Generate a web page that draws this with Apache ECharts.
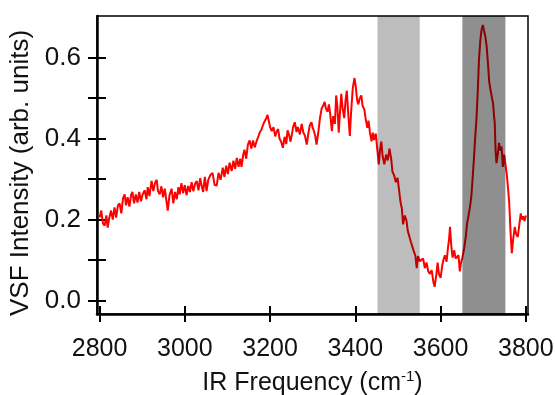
<!DOCTYPE html>
<html>
<head>
<meta charset="utf-8">
<script src="https://cdn.jsdelivr.net/npm/echarts@6/dist/echarts.min.js"></script>
<style>
html,body{margin:0;padding:0;background:#fff;}
#chart{width:555px;height:395px;}
</style>
</head>
<body>
<div id="chart"></div>
<script>
// IR frequency (cm^-1)
const freq = [
2800,2804,2808,2812,2816,2819,2823,2827,2831,2835,2839,2843,2847,2851,2855,2859,2862,2866,2870,2874,
2877,2881,2885,2889,2893,2897,2901,2906,2910,2913,2917,2922,2926,2930,2934,2937,2941,2945,2949,2953,
2957,2960,2964,2969,2973,2977,2981,2985,2988,2992,2996,3000,3004,3008,3012,3016,3020,3024,3028,3032,
3036,3039,3043,3047,3051,3055,3060,3065,3070,3075,3079,3084,3089,3093,3097,3101,3105,3110,3114,3118,
3122,3126,3130,3133,3137,3140,3144,3148,3152,3156,3160,3164,3168,3172,3176,3180,3183,3187,3191,3194,
3197,3200,3204,3208,3212,3215,3219,3222,3226,3230,3234,3238,3241,3245,3248,3251,3254,3258,3262,3265,
3270,3274,3278,3282,3286,3290,3293,3297,3300,3303,3306,3309,3313,3317,3321,3325,3328,3331,3335,3338,
3341,3345,3348,3352,3355,3358,3361,3364,3367,3370,3374,3377,3380,3383,3387,3390,3394,3398,3401,3404,
3407,3410,3414,3417,3421,3424,3428,3431,3434,3438,3441,3444,3448,3451,3455,3458,3461,3464,3468,3472,
3476,3480,3484,3487,3491,3495,3499,3502,3506,3509,3512,3516,3520,3523,3527,3530,3534,3537,3541,3544,
3547,3551,3555,3559,3563,3567,3571,3575,3579,3583,3586,3590,3593,3596,3600,3604,3607,3610,3614,3617,
3620,3622,3625,3628,3632,3635,3639,3642,3645,3648,3651,3655,3659,3662,3665,3669,3672,3675,3678,3681,
3684,3687,3690,3693,3696,3699,3702,3705,3708,3711,3714,3717,3720,3723,3725,3727,3729,3731,3734,3737,
3740,3743,3746,3749,3752,3755,3758,3761,3764,3767,3770,3774,3777,3781,3785,3788,3791,3794,3797,3800
];
// VSF intensity (arb. units)
const vsf = [
0.205,0.222,0.190,0.185,0.210,0.180,0.205,0.222,0.200,0.230,0.205,0.235,0.240,0.215,0.252,0.262,0.235,0.255,0.232,0.260,
0.268,0.240,0.262,0.242,0.268,0.245,0.262,0.272,0.250,0.280,0.258,0.295,0.270,0.290,0.298,0.270,0.262,0.282,0.255,0.276,
0.245,0.222,0.260,0.276,0.240,0.268,0.250,0.280,0.262,0.290,0.265,0.285,0.260,0.283,0.268,0.292,0.270,0.288,0.295,0.272,
0.302,0.285,0.268,0.305,0.270,0.298,0.310,0.315,0.285,0.284,0.315,0.298,0.328,0.305,0.333,0.312,0.340,0.320,0.345,0.325,
0.352,0.330,0.350,0.330,0.360,0.372,0.350,0.385,0.395,0.375,0.395,0.378,0.392,0.403,0.416,0.422,0.432,0.442,0.450,0.458,
0.443,0.428,0.418,0.428,0.405,0.416,0.423,0.400,0.392,0.377,0.404,0.386,0.420,0.407,0.392,0.409,0.428,0.440,0.416,0.428,
0.410,0.436,0.415,0.406,0.385,0.414,0.432,0.440,0.426,0.418,0.406,0.385,0.414,0.450,0.474,0.482,0.490,0.474,0.466,0.484,
0.460,0.418,0.455,0.436,0.506,0.476,0.414,0.464,0.510,0.476,0.450,0.494,0.518,0.466,0.406,0.464,0.524,0.549,0.528,0.496,
0.484,0.498,0.506,0.480,0.472,0.450,0.426,0.444,0.416,0.393,0.414,0.396,0.412,0.378,0.336,0.373,0.392,0.356,0.336,0.360,
0.346,0.375,0.350,0.318,0.309,0.292,0.303,0.277,0.243,0.228,0.188,0.210,0.197,0.172,0.168,0.146,0.142,0.122,0.110,0.080,
0.110,0.097,0.094,0.104,0.080,0.094,0.072,0.066,0.075,0.046,0.034,0.064,0.094,0.066,0.056,0.088,0.102,0.112,0.096,0.128,
0.152,0.182,0.136,0.106,0.124,0.104,0.100,0.112,0.072,0.094,0.106,0.128,0.157,0.190,0.207,0.232,0.256,0.300,0.347,0.400,
0.446,0.512,0.594,0.640,0.668,0.680,0.665,0.651,0.627,0.586,0.540,0.520,0.503,0.487,0.460,0.437,0.370,0.339,0.360,0.389,
0.370,0.380,0.330,0.360,0.364,0.314,0.280,0.240,0.170,0.117,0.150,0.182,0.165,0.157,0.190,0.215,0.200,0.208,0.196,0.210
];
const xTicks = [2800,3000,3200,3400,3600,3800];
const yTicks = [0.0,0.2,0.4,0.6];
const yMinorTicks = [0.1,0.3,0.5];
const bandLight = [3452,3551];
const bandDark = [3651,3752];

const data = freq.map((f,i)=>[f,vsf[i]]);
const X_MIN = 2794, X_MAX = 3805, Y_MIN = -0.033, Y_MAX = 0.702;
const FONT = 'Liberation Sans, Arial, sans-serif';
const allY = yTicks.concat(yMinorTicks);

const chart = echarts.init(document.getElementById('chart'), null, {renderer:'canvas'});
const xBase = {
  type:'value', min:X_MIN, max:X_MAX, position:'bottom', gridIndex:0,
  splitLine:{show:false}
};
const yBase = {
  type:'value', min:Y_MIN, max:Y_MAX, position:'left', gridIndex:0,
  splitLine:{show:false}
};
chart.setOption({
  animation:false,
  backgroundColor:'#fff',
  grid:{left:97, right:27, top:16, bottom:81, show:true, borderColor:'#000', borderWidth:1.5,
        backgroundColor:'transparent', containLabel:false, outerBoundsMode:'none'},
  xAxis:[
    Object.assign({}, xBase, {
      axisLine:{show:true, onZero:false, lineStyle:{color:'#000', width:2.5}},
      axisTick:{show:true, inside:false, length:8, customValues:xTicks, lineStyle:{color:'#000', width:2}},
      axisLabel:{show:true, customValues:xTicks, margin:23, fontSize:25, color:'#111', fontFamily:FONT,
        formatter:(v)=>String(Math.round(v))},
      name:'IR Frequency (cm{sup|-1})',
      nameLocation:'middle', nameGap:55,
      nameTextStyle:{fontSize:25, color:'#111', fontFamily:FONT,
        rich:{sup:{fontSize:15, color:'#111', fontFamily:FONT, verticalAlign:'top', padding:[0,0,14,0]}}}
    }),
    Object.assign({}, xBase, {
      axisLine:{show:false, onZero:false},
      axisTick:{show:true, inside:true, length:8, customValues:xTicks, lineStyle:{color:'#000', width:2}},
      axisLabel:{show:false}
    })
  ],
  yAxis:[
    Object.assign({}, yBase, {
      axisLine:{show:true, onZero:false, lineStyle:{color:'#000', width:2.5}},
      axisTick:{show:true, inside:false, length:9, customValues:allY, lineStyle:{color:'#000', width:2}},
      axisLabel:{show:true, customValues:yTicks, margin:16, fontSize:26, color:'#111', fontFamily:FONT,
        formatter:(v)=>v.toFixed(1)},
      name:'VSF Intensity (arb. units)',
      nameLocation:'middle', nameGap:57, nameRotate:90,
      nameTextStyle:{fontSize:26, color:'#111', fontFamily:FONT, padding:[0,16,0,0]}
    }),
    Object.assign({}, yBase, {
      axisLine:{show:false, onZero:false},
      axisTick:{show:true, inside:true, length:9, customValues:allY, lineStyle:{color:'#000', width:2}},
      axisLabel:{show:false}
    })
  ],
  series:[{
    type:'line', xAxisIndex:0, yAxisIndex:0,
    data:data, showSymbol:false, symbol:'none',
    lineStyle:{color:'#ff0000', width:2},
    z:2,
    markArea:{
      silent:true, z:5,
      data:[
        [{xAxis:bandLight[0], itemStyle:{color:'rgba(0,0,0,0.26)'}},{xAxis:bandLight[1]}],
        [{xAxis:bandDark[0], itemStyle:{color:'rgba(0,0,0,0.44)'}},{xAxis:bandDark[1]}]
      ]
    }
  }]
});
</script>
</body>
</html>
